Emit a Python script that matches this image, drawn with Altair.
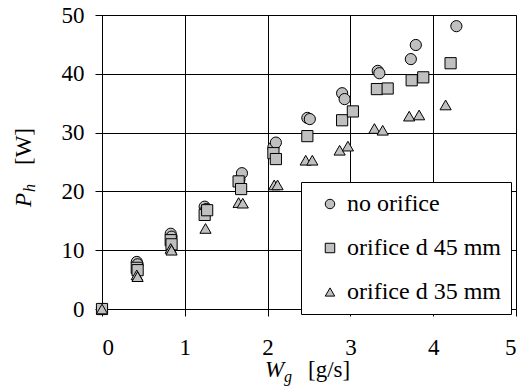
import altair as alt
import pandas as pd

series_names = ["no orifice", "orifice d 45 mm", "orifice d 35 mm"]

no_x = [0, 0.42, 0.43, 0.83, 0.84, 1.24, 1.26, 1.66, 1.69, 2.07, 2.10, 2.48, 2.51, 2.90, 2.93, 3.33, 3.35, 3.73, 3.79, 4.28]
no_y = [0, 8.0, 7.6, 12.8, 12.3, 17.4, 17.0, 22.0, 23.1, 27.5, 28.3, 32.5, 32.3, 36.7, 35.7, 40.5, 40.1, 42.5, 44.9, 48.1]

d45_x = [0, 0.42, 0.43, 0.83, 0.84, 1.24, 1.27, 1.65, 1.68, 2.07, 2.10, 2.48, 2.90, 3.03, 3.32, 3.45, 3.74, 3.88, 4.21]
d45_y = [0, 7.0, 6.6, 11.7, 11.0, 16.0, 16.8, 21.7, 20.4, 26.5, 25.5, 29.4, 32.1, 33.6, 37.4, 37.5, 38.9, 39.4, 41.8]

d35_x = [0, 0.42, 0.43, 0.83, 0.84, 1.25, 1.65, 1.70, 2.08, 2.12, 2.46, 2.54, 2.87, 2.97, 3.29, 3.39, 3.71, 3.83, 4.15]
d35_y = [0, 5.8, 5.5, 10.3, 10.0, 13.7, 18.1, 18.0, 21.1, 21.1, 25.3, 25.3, 27.0, 27.7, 30.7, 30.4, 32.8, 33.0, 34.7]

x_ticks = [0, 1, 2, 3, 4, 5]
y_ticks = [0, 10, 20, 30, 40, 50]

rows = []
for name, xs, ys in [(series_names[0], no_x, no_y), (series_names[1], d45_x, d45_y), (series_names[2], d35_x, d35_y)]:
    for a, b in zip(xs, ys):
        rows.append({"Wg": a, "Ph": b, "series": name, "order": series_names.index(name)})
df = pd.DataFrame(rows)

FONT = "Liberation Serif"

leg = alt.Legend(title=None, orient="none", legendX=199, legendY=167,
                 strokeColor="#000000", fillColor="#ffffff", padding=10,
                 rowPadding=20, symbolOffset=7, labelOffset=5,
                 labelFont=FONT, labelFontSize=24, labelColor="#000000",
                 symbolSize=90, symbolStrokeWidth=1)

axis_common = dict(title=None, format="d", grid=True, gridColor="#000000", gridWidth=1,
                   gridOpacity=1, domainColor="#000000", domainWidth=1,
                   tickColor="#000000", tickSize=7, tickWidth=1,
                   labelFont=FONT, labelFontSize=23, labelColor="#000000")

points = alt.Chart(df).mark_point(
    filled=True, strokeWidth=1, size=125, opacity=1
).encode(
    x=alt.X("Wg:Q", scale=alt.Scale(domain=[0, 5], nice=False),
            axis=alt.Axis(values=x_ticks, labelPadding=20, **axis_common)),
    y=alt.Y("Ph:Q", scale=alt.Scale(domain=[0, 50], nice=False),
            axis=alt.Axis(values=y_ticks, labelPadding=11, **axis_common)),
    shape=alt.Shape("series:N",
                    scale=alt.Scale(domain=series_names, range=["circle", "square", "triangle-up"]),
                    legend=leg),
    fill=alt.Fill("series:N",
                  scale=alt.Scale(domain=series_names, range=["#c0c0c0", "#c0c0c0", "#c0c0c0"]),
                  legend=leg),
    stroke=alt.Stroke("series:N",
                      scale=alt.Scale(domain=series_names, range=["#000000", "#000000", "#000000"]),
                      legend=leg),
    order=alt.Order("order:Q"),
)

def txt(s, x, y, size=23, italic=False, angle=0):
    kw = dict(font=FONT, fontSize=size, align="left", baseline="alphabetic")
    if italic:
        kw["fontStyle"] = "italic"
    if angle:
        kw["angle"] = angle
    return alt.Chart(pd.DataFrame({"t": [s]})).mark_text(**kw).encode(
        x=alt.value(x), y=alt.value(y), text="t:N")

titles = [
    txt("W", 163, 362, italic=True),
    txt("g", 182, 367, size=16, italic=True),
    txt("[g/s]", 206, 362),
    txt("P", -71, 192, italic=True, angle=270),
    txt("h", -67, 177, size=16, italic=True, angle=270),
    txt("[W]", -71, 150, angle=270),
]

chart = alt.layer(points, *titles).properties(
    width=414, height=294, autosize="none",
    padding={"left": 102, "top": 15, "right": 6, "bottom": 78},
    view=alt.ViewBackground(stroke="#888888", strokeWidth=1),
)

chart.save("out.html", embed_options={"renderer": "svg", "actions": False})
